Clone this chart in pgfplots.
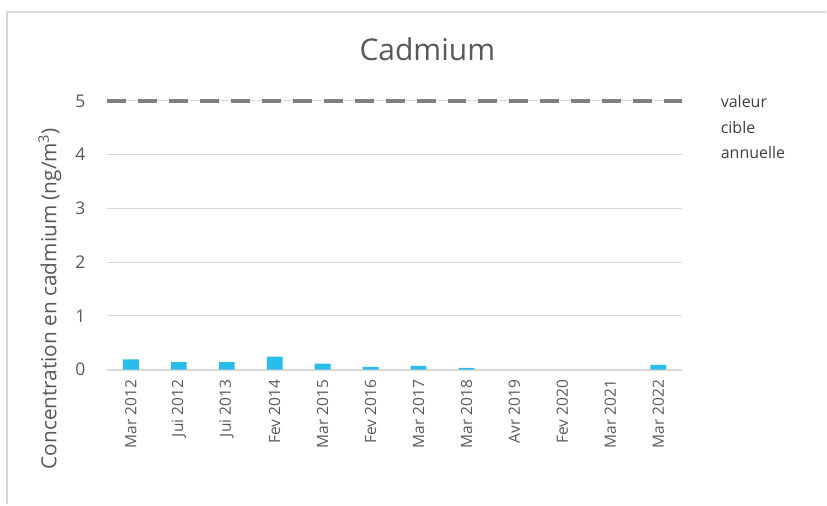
\documentclass[border=0pt]{standalone}
\usepackage{pgfplots}
\pgfplotsset{compat=1.18}
\usepackage{fontspec}
\setmainfont{Open Sans}
\definecolor{txt}{RGB}{89,89,89}
\definecolor{lbl}{RGB}{64,64,64}
\definecolor{gridc}{RGB}{217,217,217}
\definecolor{barc}{RGB}{41,190,234}
\definecolor{target}{RGB}{127,127,127}
\begin{document}
\begin{tikzpicture}
  % canvas and frame; the plot area's lower left corner sits at the origin
  \fill[white] (-107pt,-135pt) rectangle (720pt,370pt);
  \draw[gridc, line width=1.8pt] (-100pt,-135pt) -- (-100pt,358pt) -- (720pt,358pt);
  \begin{axis}[
    at={(0pt,0pt)}, anchor=south west,
    scale only axis, width=576pt, height=269pt,
    xmin=-0.5, xmax=11.5, ymin=0, ymax=5,
    axis line style={draw=none},
    ymajorgrids, grid style={gridc, line width=1pt},
    ytick={0,1,2,3,4,5},
    xtick={0,...,11},
    xticklabels={Mar 2012,Jui 2012,Jui 2013,Fev 2014,Mar 2015,Fev 2016,Mar 2017,Mar 2018,Avr 2019,Fev 2020,Mar 2021,Mar 2022},
    x tick label style={rotate=90, anchor=east, font=\fontsize{15.5}{18}\selectfont, text=txt},
    y tick label style={font=\fontsize{17.5}{20}\selectfont, text=txt},
    /pgf/number format/assume math mode=true,
    major tick length=0pt,
    xticklabel shift=7pt,
    yticklabel shift=18pt,
    ylabel={Concentration en cadmium (ng/m\textsuperscript{3})},
    ylabel style={font=\fontsize{20.8}{24}\selectfont, text=txt, at={(axis description cs:-0.099,0.264)}, anchor=center},
    title={Cadmium},
    title style={font=\fontsize{30}{34}\selectfont, text=txt, at={(0.557,1)}, anchor=base, yshift=34pt},
    clip=false,
  ]
    \draw[gridc, line width=2pt] (axis cs:-0.5,0) -- (axis cs:11.5,0);
    \addplot[ybar, bar width=0.33, fill=barc, draw=none] coordinates {
      (0,0.19) (1,0.14) (2,0.14) (3,0.24) (4,0.11) (5,0.05)
      (6,0.07) (7,0.03) (11,0.09)
    };
    \addplot[target, line width=4.2pt, dash pattern=on 19pt off 12pt] coordinates {(-0.5,5) (11.5,5)};
    \node[anchor=west, inner sep=0pt, font=\fontsize{16}{19}\selectfont, text=lbl] at (axis cs:12.3,4.95) {\strut valeur};
    \node[anchor=west, inner sep=0pt, font=\fontsize{16}{19}\selectfont, text=lbl] at (axis cs:12.3,4.47) {\strut cible};
    \node[anchor=west, inner sep=0pt, font=\fontsize{16}{19}\selectfont, text=lbl] at (axis cs:12.3,3.99) {\strut annuelle};
  \end{axis}
\end{tikzpicture}
\end{document}
